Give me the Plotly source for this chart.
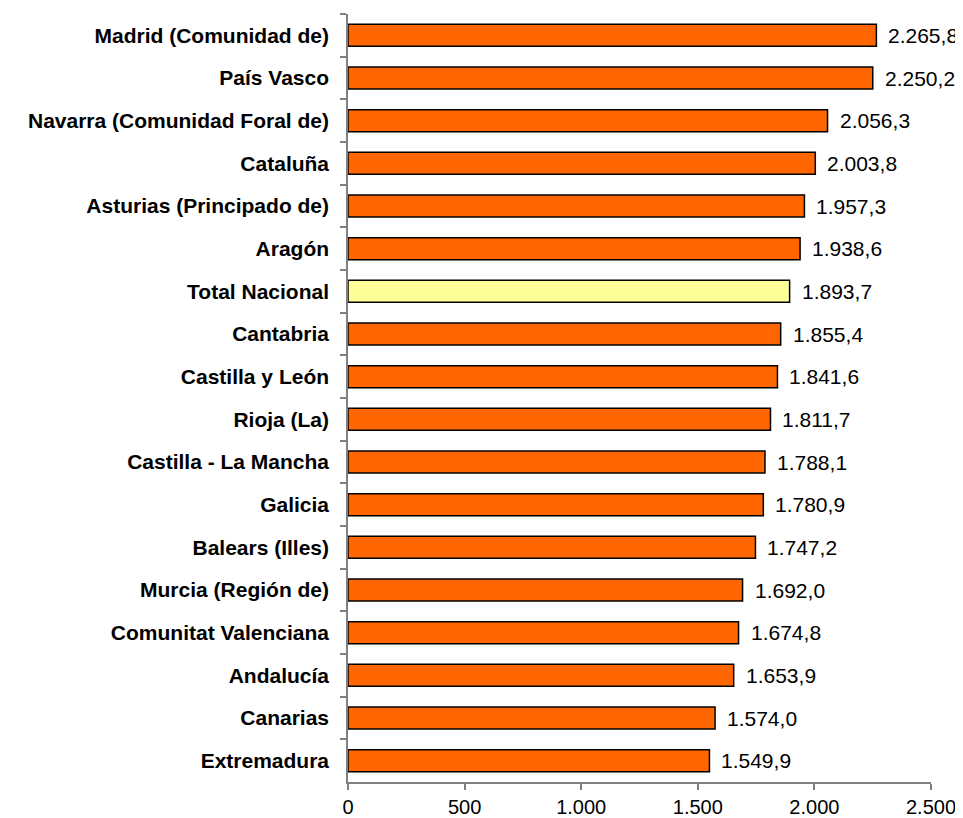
import plotly.graph_objects as go

regions = [
    "Madrid (Comunidad de)", "País Vasco", "Navarra (Comunidad Foral de)", "Cataluña",
    "Asturias (Principado de)", "Aragón", "Total Nacional", "Cantabria",
    "Castilla y León", "Rioja (La)", "Castilla - La Mancha", "Galicia",
    "Balears (Illes)", "Murcia (Región de)", "Comunitat Valenciana", "Andalucía",
    "Canarias", "Extremadura",
]
values = [
    2265.8, 2250.2, 2056.3, 2003.8, 1957.3, 1938.6, 1893.7, 1855.4,
    1841.6, 1811.7, 1788.1, 1780.9, 1747.2, 1692.0, 1674.8, 1653.9,
    1574.0, 1549.9,
]
x_ticks = [0, 500, 1000, 1500, 2000, 2500]

colors = ["#FFFF99" if r == "Total Nacional" else "#FF6600" for r in regions]
FONT = "Liberation Sans, Arial"

fig = go.Figure()
fig.add_trace(go.Bar(
    x=values, y=regions, orientation="h",
    marker=dict(color=colors, line=dict(color="#000000", width=1.5)),
    hoverinfo="skip",
))

for r, v in zip(regions, values):
    fig.add_annotation(
        x=v, y=r, text=f"{v:,.1f}".replace(",", "X").replace(".", ",").replace("X", "."),
        xanchor="left", showarrow=False, xshift=10,
        font=dict(family=FONT, size=21, color="#000000"),
    )

fig.update_layout(
    width=955, height=810,
    margin=dict(l=340, r=32, t=6, b=36, autoexpand=False),
    paper_bgcolor="white", plot_bgcolor="white",
    bargap=0.485,
    showlegend=False,
    separators=",.",
    font=dict(family=FONT, color="#000000"),
)
fig.update_xaxes(
    range=[0, 2500], tickvals=x_ticks, tickformat=",d", automargin=False,
    showgrid=False, zeroline=False,
    showline=True, linecolor="#808080", linewidth=1.5,
    ticks="outside", ticklen=6, tickcolor="#808080", tickwidth=1.5,
    ticklabelstandoff=0,
    tickfont=dict(size=20, family=FONT),
)
fig.update_yaxes(
    autorange="reversed", showgrid=False, zeroline=False, automargin=False,
    showline=True, linecolor="#808080", linewidth=1.5,
    ticks="outside", ticklen=6, tickcolor="#808080", tickwidth=1.5,
    tickson="boundaries", ticklabelstandoff=13,
    tickfont=dict(size=21, family=FONT, weight="bold"),
)

fig.write_html("out.html")
